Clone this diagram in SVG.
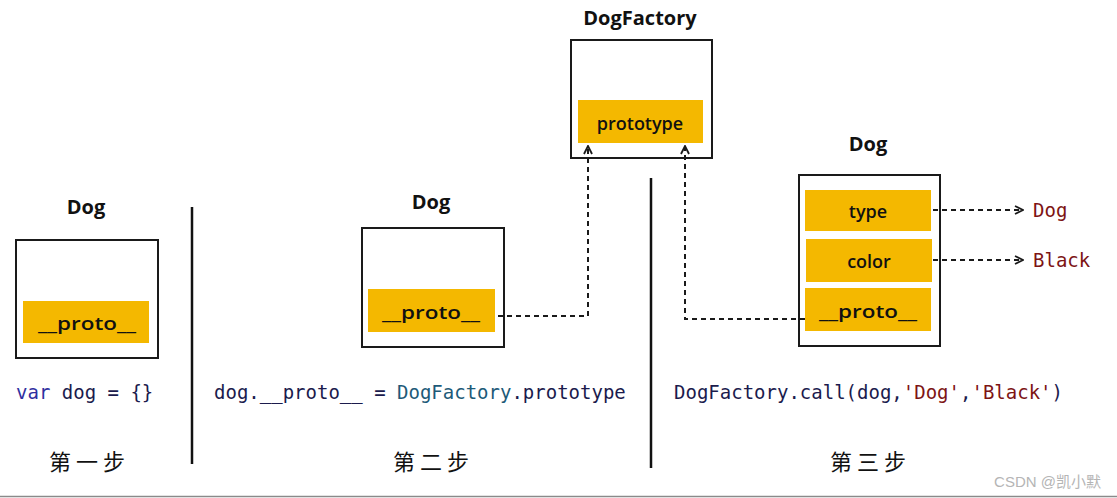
<svg xmlns="http://www.w3.org/2000/svg" width="1117" height="498" viewBox="0 0 1117 498">
<defs>
<style>
.box{fill:#fff;stroke:#1a1a1a;stroke-width:2}
.slot{fill:#F4B800}
.title{font-family:"Open Sans","DejaVu Sans",sans-serif;font-weight:700;font-size:20px;fill:#111;text-anchor:middle}
.lbl{font-family:"Open Sans","DejaVu Sans",sans-serif;font-weight:600;font-size:18px;fill:#111;text-anchor:middle}
.code{font-family:"DejaVu Sans Mono","Liberation Mono",monospace;font-size:19px;fill:#1b1b4d}
.kw{fill:#2f2fa0}
.cls{fill:#1d5a78}
.str{fill:#7d1414}
.step{font-family:"Noto Sans CJK SC",sans-serif;font-size:22px;fill:#111;text-anchor:middle}
.sep{stroke:#111;stroke-width:2.5}
.conn{fill:none;stroke:#1a1a1a;stroke-width:2;stroke-dasharray:5 4}
</style>
<marker id="ah" viewBox="0 0 10 10" refX="9" refY="5" markerWidth="10" markerHeight="10" markerUnits="userSpaceOnUse" orient="auto">
<path d="M1,1 L9,5 L1,9" fill="none" stroke="#1a1a1a" stroke-width="1.8"/>
</marker>
</defs>
<rect width="1117" height="498" fill="#fff"/>

<g id="step1-dog">
<text class="title" x="86" y="214">Dog</text>
<rect class="box" x="16" y="240" width="142" height="118"/>
<rect class="slot" x="23" y="301" width="126" height="42"/>
<text class="lbl" x="87" y="330" textLength="98" lengthAdjust="spacingAndGlyphs">__proto__</text>
</g>

<g id="step2-dog">
<text class="title" x="431" y="209">Dog</text>
<rect class="box" x="362" y="228" width="142" height="119"/>
<rect class="slot" x="368" y="289" width="127" height="43"/>
<text class="lbl" x="431" y="319" textLength="98" lengthAdjust="spacingAndGlyphs">__proto__</text>
</g>

<g id="dogfactory">
<text class="title" x="640" y="25">DogFactory</text>
<rect class="box" x="571" y="40" width="141" height="118"/>
<rect class="slot" x="578" y="100" width="125" height="43"/>
<text class="lbl" x="640" y="130">prototype</text>
</g>

<g id="step3-dog">
<text class="title" x="868" y="151">Dog</text>
<rect class="box" x="799" y="175" width="141" height="171"/>
<rect class="slot" x="805" y="190" width="126" height="41"/>
<text class="lbl" x="868" y="218">type</text>
<rect class="slot" x="806" y="239" width="126" height="43"/>
<text class="lbl" x="869" y="268">color</text>
<rect class="slot" x="805" y="288" width="126" height="43"/>
<text class="lbl" x="868" y="318" textLength="98" lengthAdjust="spacingAndGlyphs">__proto__</text>
</g>

<g id="connectors">
<path class="conn" d="M498,316 H588 V146" marker-end="url(#ah)"/>
<path class="conn" d="M805,319 H685 V146" marker-end="url(#ah)"/>
<path class="conn" d="M933,210 H1023" marker-end="url(#ah)"/>
<path class="conn" d="M933,260 H1023" marker-end="url(#ah)"/>
</g>

<g id="values">
<text class="code str" x="1033" y="217">Dog</text>
<text class="code str" x="1033" y="267">Black</text>
</g>

<g id="separators">
<line class="sep" x1="192" y1="207" x2="192" y2="464"/>
<line class="sep" x1="651" y1="178" x2="651" y2="468"/>
</g>

<g id="code">
<text class="code" x="16" y="399"><tspan class="kw">var</tspan> dog = {}</text>
<text class="code" x="214" y="399">dog.__proto__ = <tspan class="cls">DogFactory</tspan>.prototype</text>
<text class="code" x="674" y="399">DogFactory.call(dog,<tspan class="str">'Dog'</tspan>,<tspan class="str">'Black'</tspan>)</text>
</g>

<g id="steps">
<text class="step" x="87" y="470">第 一 步</text>
<text class="step" x="431" y="470">第 二 步</text>
<text class="step" x="868" y="470">第 三 步</text>
</g>

<text x="1101" y="487" text-anchor="end" font-family="'Liberation Sans','Noto Sans CJK SC',sans-serif" font-size="15" fill="#b5b5b5">CSDN @凯小默</text>
<line x1="0" y1="496.5" x2="1117" y2="496.5" stroke="#8a8a8a" stroke-width="1.5"/>
</svg>
